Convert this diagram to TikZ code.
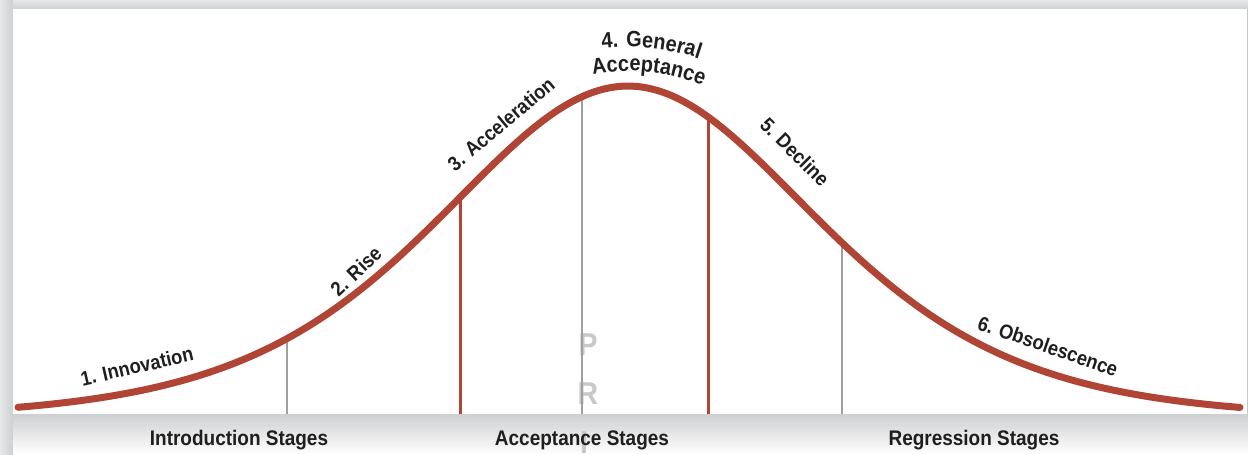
\documentclass[tikz,border=0pt]{standalone}
\usepackage{fontspec}
\setmainfont{Liberation Sans}[FakeStretch=0.9]
\newfontfamily\arcfont{Liberation Sans Bold}[FakeStretch=0.9, LetterSpace=9]
\usepackage{tikz}
\usetikzlibrary{positioning,calc,decorations.text}
\definecolor{curvered}{RGB}{176,69,53}
\definecolor{tickgray}{RGB}{160,160,162}
\definecolor{markgray}{RGB}{200,200,200}
\definecolor{bandgray}{RGB}{206,207,209}
\definecolor{bandlight}{RGB}{230,231,232}
\tikzset{
  bellcurve/.style={draw=curvered, line width=0.14cm, line cap=round},
  mainstage/.style={draw=curvered, line width=0.06cm},
  thinstage/.style={draw=tickgray, line width=0.04cm},
  phase/.style={font=\fontsize{11.6}{13}\selectfont\bfseries, text=black!88, inner sep=0pt},
  stagename/.style={font=\fontsize{12}{14}\selectfont\bfseries, text=black!88, inner sep=0pt},
  wmletter/.style={font=\fontsize{18}{20}\selectfont\bfseries, text=markgray, inner sep=0pt},
  arctext/.style={decorate, decoration={text along path, text align=center,
                  text={|\arcfont\fontsize{12.6}{14}\selectfont\color{black!88}|#1}}},
}

\begin{document}
\begin{tikzpicture}[x=0.02cm, y=0.02cm,
  declare function={bell(\t)=36+332*4/(exp((\t-628)/254)+exp(-(\t-628)/254))^2;}]
\useasboundingbox (0,0) rectangle (1248,454);
% frame and shadow
\shade[left color=bandlight, right color=bandgray] (0,0) rectangle (13,454);
\shade[top color=bandlight, bottom color=bandgray] (13,445) rectangle (1248,454);
\shade[top color=bandgray, bottom color=white] (13,0) rectangle (1248,40);
\fill[white] (13,40) rectangle (1248,445);
\draw[tickgray!60, line width=0.02cm] (1247,40) -- (1247,445);
% watermark
\node[wmletter] (wmP) at (588,109) {P};
\node[wmletter] (wmR) at (588,60) {R};
\node[wmletter] (wmI) at (584,11) {I};
% stage borders
\foreach \xx/\sty in {287/thinstage, 460/mainstage, 582/thinstage, 708/mainstage, 842/thinstage}
  \draw[\sty] (\xx,40) -- (\xx,{bell(\xx)});
\draw[bellcurve] plot[domain=18:1240, samples=160, smooth] (\x,{bell(\x)});
% phases along the curve
\node[phase, rotate=13] (ph1) at (137,88) {1. Innovation};
\node[phase, rotate=43] (ph2) at (356,183) {2. Rise};
\node[phase, rotate=40] (ph3) at (501,330) {3. Acceleration};
\coordinate (top) at (628,186);
\path[arctext={4. General}] ($(top)+(114:221)$) arc[start angle=114, end angle=54, radius=221];
\path[arctext={Acceptance}] ($(top)+(114:197)$) arc[start angle=114, end angle=54, radius=197];
\node[phase, rotate=-45] (ph5) at (795,302) {5. Decline};
\node[phase, rotate=-19] (ph6) at (1048,108) {6. Obsolescence};
% stage groups
\node[stagename] (intro) at (239,14) {Introduction Stages};
\node[stagename] (accept) at (582,14) {Acceptance Stages};
\node[stagename] (regress) at (974,14) {Regression Stages};
\end{tikzpicture}
\end{document}
